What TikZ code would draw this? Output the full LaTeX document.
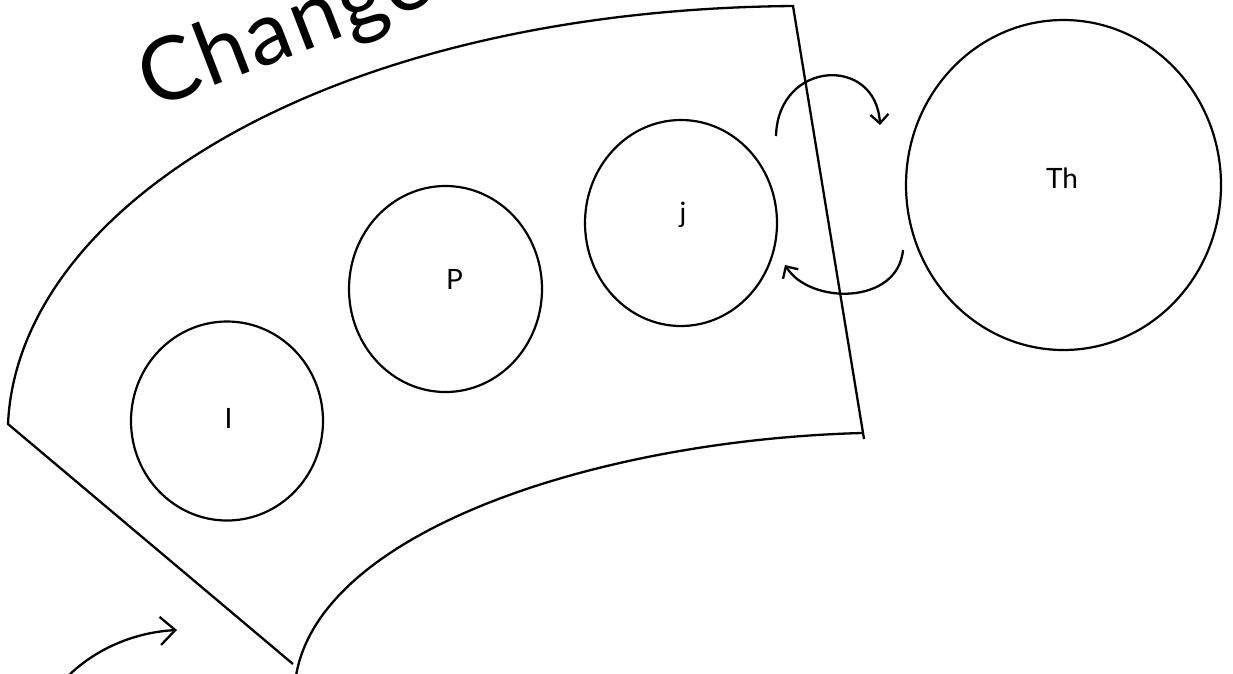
\documentclass[tikz,border=0pt]{standalone}
\usepackage{fontspec}
\setmainfont{Lato}
\usetikzlibrary{shapes.geometric,arrows.meta}
\begin{document}
\begin{tikzpicture}[x=1pt,y=-1pt,
  edge/.style={line width=2.3pt},
  blob/.style={draw, ellipse, line width=2.2pt, inner sep=0pt},
  lbl/.style={font=\fontsize{28}{30}\selectfont, anchor=base, inner sep=0pt},
  arr/.style={line width=2.3pt, -{Straight Barb[length=9pt,width=18pt]}},
  bigarr/.style={line width=2.3pt, -{Straight Barb[length=15pt,width=28pt]}}]
\useasboundingbox (0,0) rectangle (1233,673);
% band
\draw[edge] (293,664) -- (8,424) .. controls (18,205) and (330,10) .. (793,6) -- (864,439);
\draw[edge] (862,433) .. controls (600,440) and (320,530) .. (296,676);
% title
\node[rotate=21, anchor=base west, inner sep=0pt, font=\fontsize{88}{90}\selectfont\addfontfeatures{LetterSpace=3}] (title) at (152,110) {Change};
% circles
\node[blob, minimum width=192pt, minimum height=199pt] (I) at (227,421) {};
\node[blob, minimum width=193pt, minimum height=206pt] (P) at (445.5,289) {};
\node[blob, minimum width=192pt, minimum height=206pt] (J) at (681,223) {};
\node[blob, minimum width=315pt, minimum height=330pt] (Th) at (1063.5,185) {};
% labels
\node[lbl] (Il) at (228.5,428) {I};
\node[lbl] (Pl) at (454.5,289) {P};
\node[lbl] (Jl) at (683,222) {j};
\node[lbl] (Thl) at (1062,188) {Th};
% arrows
\coordinate (a1s) at (776,136);
\coordinate (a1e) at (880,125);
\draw[arr] (a1s) .. controls (778,60) and (876,55) .. (a1e);
\coordinate (a2s) at (903,250);
\coordinate (a2e) at (785,265);
\draw[arr] (a2s) .. controls (898,305) and (810,305) .. (a2e);
\coordinate (a3s) at (68,676);
\coordinate (a3e) at (177,630);
\draw[bigarr] (a3s) .. controls (100,645) and (140,632) .. (a3e);
\end{tikzpicture}
\end{document}
